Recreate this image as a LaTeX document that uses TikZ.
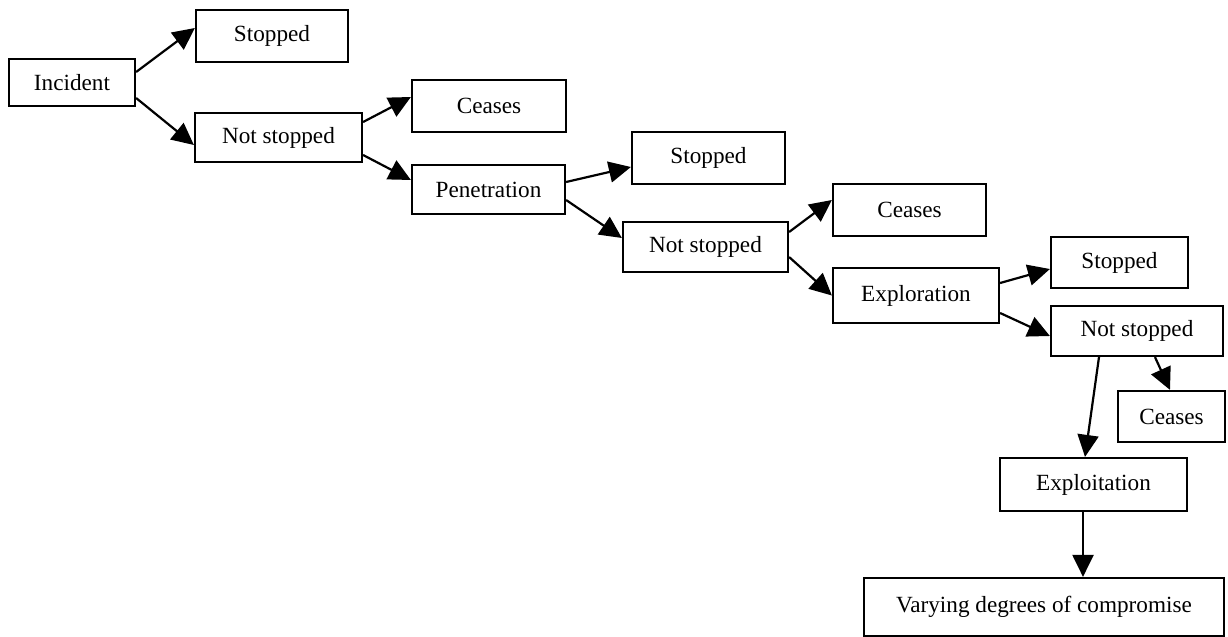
\documentclass[tikz,border=0pt]{standalone}
\usepackage{fontspec}
\setmainfont{Liberation Serif}
\usetikzlibrary{arrows.meta,calc}
\begin{document}
\begin{tikzpicture}[x=0.5pt,y=-0.5pt,
  box/.style={draw,line width=1.1pt,inner sep=0pt,font=\fontsize{11.6pt}{13pt}\selectfont},
  arr/.style={line width=1.1pt,-{Triangle[length=11pt,width=10.5pt]}}]
\useasboundingbox (0,0) rectangle (1228,637);
\node[box,minimum width=63pt,minimum height=23.5pt] (inc) at (72,82.5) {Incident\hspace{6pt}};
\node[box,minimum width=76pt,minimum height=26pt] (st1) at (272,36) {Stopped};
\node[box,minimum width=83.5pt,minimum height=24.5pt] (ns1) at (278.5,137.5) {Not stopped\hspace{6pt}};
\node[box,minimum width=77pt,minimum height=26pt] (ce1) at (489,106) {Ceases};
\node[box,minimum width=76.5pt,minimum height=24.5pt] (pen) at (488.5,189.5) {Penetration};
\node[box,minimum width=76.5pt,minimum height=26pt] (st2) at (708.5,158) {Stopped};
\node[box,minimum width=82.5pt,minimum height=25pt] (ns2) at (705.5,247) {Not stopped};
\node[box,minimum width=76.5pt,minimum height=26pt] (ce2) at (909.5,210) {Ceases};
\node[box,minimum width=83pt,minimum height=27.5pt] (exr) at (916,295.5) {Exploration};
\node[box,minimum width=68.5pt,minimum height=25.5pt] (st3) at (1119.5,262.5) {Stopped\hspace{8pt}};
\node[box,minimum width=86pt,minimum height=25pt] (ns3) at (1137,331) {Not stopped};
\node[box,minimum width=53.5pt,minimum height=25.5pt] (ce3) at (1171.5,416.5) {Ceases};
\node[box,minimum width=93.5pt,minimum height=26.5pt] (exi) at (1093.5,484.5) {Exploitation};
\node[box,minimum width=180pt,minimum height=29pt] (var) at (1044,607) {Varying degrees of compromise};
\draw[arr] ($(inc.east)+(0,-10.5)$) -- ($(st1.west)+(0,-8)$);
\draw[arr] ($(inc.east)+(0,15.5)$) -- ($(ns1.west)+(0,7.5)$);
\draw[arr] ($(ns1.east)+(0,-15.5)$) -- ($(ce1.west)+(0,-9)$);
\draw[arr] ($(ns1.east)+(0,17.5)$) -- ($(pen.west)+(0,-9.5)$);
\draw[arr] ($(pen.east)+(0,-7.5)$) -- ($(st2.west)+(0,9)$);
\draw[arr] ($(pen.east)+(0,10.5)$) -- ($(ns2.west)+(0,-9)$);
\draw[arr] ($(ns2.east)+(0,-15)$) -- ($(ce2.west)+(0,-10)$);
\draw[arr] ($(ns2.east)+(0,10)$) -- ($(exr.west)+(0,0)$);
\draw[arr] ($(exr.east)+(0,-12.5)$) -- ($(st3.west)+(0,6.5)$);
\draw[arr] ($(exr.east)+(0,17.5)$) -- ($(ns3.west)+(0,5)$);
\draw[arr] ($(ns3.south)+(18,0)$) -- ($(ce3.north)+(-1.5,0)$);
\draw[arr] ($(ns3.south)+(-38,0)$) -- ($(exi.north)+(-8.5,0)$);
\draw[arr] ($(exi.south)+(-10.5,0)$) -- ($(var.north)+(39,0)$);
\end{tikzpicture}
\end{document}
